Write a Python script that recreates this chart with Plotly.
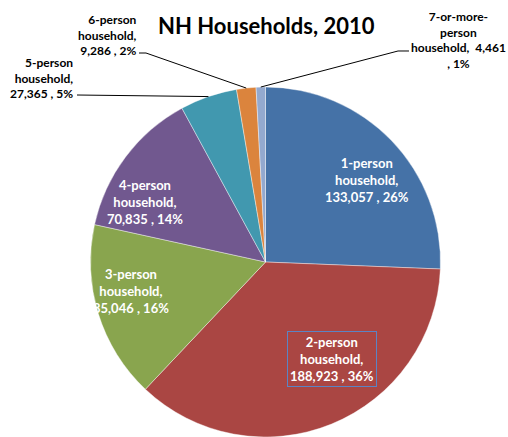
import math
import plotly.graph_objects as go

W, H = 508, 437

# data
categories = ["1-person household", "2-person household", "3-person household",
              "4-person household", "5-person household", "6-person household",
              "7-or-more-person household"]
values = [133057, 188923, 85046, 70835, 27365, 9286, 4461]
colors = ["#4572A7", "#AA4643", "#89A54E", "#71588F", "#4198AF", "#DB843D", "#93A9CF"]

# wrapped label names as they appear on the chart
wrapped = ["1-person<br>household", "2-person<br>household", "3-person<br>household",
           "4-person<br>household", "5-person<br>household", "6-person<br>household",
           "7-or-more-<br>person<br>household"]

# label placement in pixels (x, y, xanchor, align, inside)
label_pos = [(367, 180, "center", "center", True),
             (332, 359, "center", "center", True),
             (131, 291, "center", "center", True),
             (145, 202, "center", "center", True),
             (75, 78, "right", "right", False),
             (139, 35, "right", "right", False),
             (458, 40, "center", "center", False)]

# leader line start points (text end and elbow), pixels; None = no line
leaders = [None, None, None, None,
           [(77, 95)],
           [(139, 53), (146, 53)],
           [(409, 51), (398, 51)]]

cx, cy, R = 265.5, 262, 175
total = sum(values)


def px(x, y):
    return x / W, 1 - y / H


fig = go.Figure(go.Pie(
    labels=categories, values=values, sort=False, direction="clockwise",
    rotation=0, textinfo="none", hoverinfo="label+value+percent",
    marker=dict(colors=colors, line=dict(color="white", width=0.4)),
    domain=dict(x=[(cx - R) / W, (cx + R) / W], y=[0, 2 * (H - cy) / H]),
    showlegend=False,
))

annotations = []
shapes = []
cum = 0
for i, v in enumerate(values):
    pct = round(v / total * 100)
    if i == len(values) - 1:
        text = f"{wrapped[i]},  {v:,}<br>, {pct}%"
    else:
        text = f"{wrapped[i]},<br>{v:,} , {pct}%"
    x, y, xa, al, inside = label_pos[i]
    ax, ay = px(x, y)
    ann = dict(x=ax, y=ay, xref="paper", yref="paper", text=text, showarrow=False,
               xanchor=xa, yanchor="middle", align=al,
               font=dict(family="Lato", size=13 if inside else 12,
                         color="white" if inside else "black"))
    if i == 1:
        ann.update(bordercolor="#5B84C4", borderwidth=1, borderpad=2)
    annotations.append(ann)

    # slice midpoint on the rim, from the data
    mid = (cum + v / 2) / total * 2 * math.pi
    cum += v
    if leaders[i]:
        pts = leaders[i] + [(cx + R * math.sin(mid), cy - R * math.cos(mid))]
        path = ""
        for k, (x0, y0) in enumerate(pts):
            qx, qy = px(x0, y0)
            path += ("M" if k == 0 else "L") + f"{qx:.4f},{qy:.4f} "
        shapes.append(dict(type="path", path=path, xref="paper", yref="paper",
                           line=dict(color="black", width=1)))

annotations.append(dict(x=266 / W, y=1 - 25 / H, xref="paper", yref="paper",
                        text="<b>NH Households, 2010</b>", showarrow=False,
                        xanchor="center", yanchor="middle",
                        font=dict(family="Lato", size=22, color="black")))

fig.update_layout(
    width=W, height=H, margin=dict(l=0, r=0, t=0, b=0),
    paper_bgcolor="white", plot_bgcolor="white",
    annotations=annotations, shapes=shapes,
    font=dict(family="Lato", weight="bold"),
)

# drop the browser's default body margin so the figure sits at the page corner
fig.write_html("out.html", config={"displayModeBar": False},
               post_script="document.body.style.margin='0';")
